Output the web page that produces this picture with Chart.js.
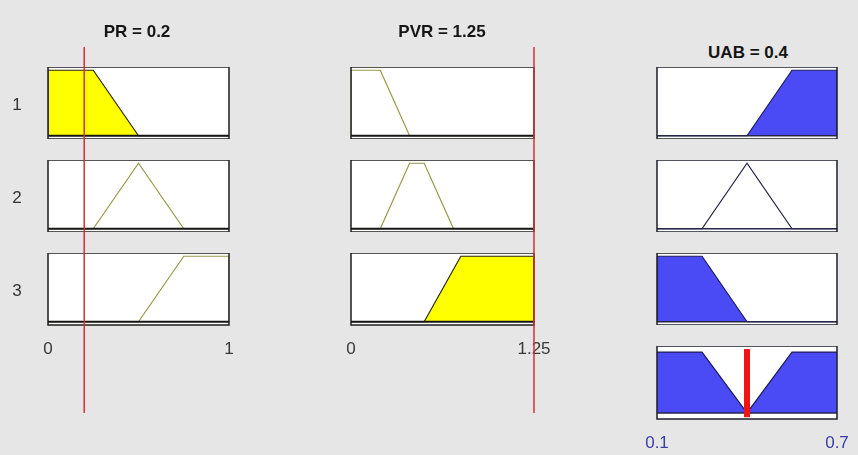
<!DOCTYPE html>
<html>
<head>
<meta charset="utf-8">
<script src="https://cdn.jsdelivr.net/npm/chart.js@4.4.1/dist/chart.umd.min.js"></script>
<style>
  html, body { margin: 0; padding: 0; background: #e6e6e6; }
  #stage { position: relative; width: 858px; height: 455px; overflow: hidden;
           font-family: "Liberation Sans", Arial, sans-serif; }
  #stage canvas { position: absolute; }
  .lbl { position: absolute; white-space: nowrap; line-height: 1; transform: translateX(-50%); }
  .title { font-weight: bold; font-size: 17px; color: #151515; }
  .rowlbl { font-size: 17px; color: #333; }
</style>
</head>
<body>
<div id="stage"></div>
<script>
// ---- fuzzy system: variables, ranges, membership functions ----
const inputNames = ['PR', 'PVR'];
const inputValues = [0.2, 1.25];
const outputName = 'UAB';
const outputValue = 0.4;

const prRange = [0, 1];
const pvrRange = [0, 1.25];
const uabRange = [0.1, 0.7];

// trimf = [a b c], trapmf = [a b c d]
const prMFs  = [[0, 0, 0.25, 0.5], [0.25, 0.5, 0.75], [0.5, 0.75, 1, 1]];
const pvrMFs = [[0, 0, 0.2, 0.4], [0.2, 0.4, 0.5, 0.7], [0.5, 0.75, 1.25, 1.25]];
const uabMFs = [[0.4, 0.55, 0.7, 0.7], [0.25, 0.4, 0.55], [0.1, 0.1, 0.25, 0.4]];

// shading level of each rule's MF
const prFill = [1, 0, 0];
const pvrFill = [0, 0, 1];
const ruleStrength = [1, 0, 1];

// aggregated output set
const aggX = [0.1, 0.25, 0.4, 0.55, 0.7];
const aggY = [1, 1, 0, 1, 1];

const ruleLabels = ['1', '2', '3'];
const prTicks = ['0', '1'];
const pvrTicks = ['0', '1.25'];
const uabTicks = ['0.1', '0.7'];

// ---- layout ----
const FONT = '"Liberation Sans", Arial, sans-serif';
const colX = [48, 351, 657];
const colW = [181, 183, 180];
const rowY = [67, 160, 253, 346];
const rowH = 72;
const aggH = 73;
const PADX = 40;
const TICK_H = 40;

const stage = document.getElementById('stage');

function addCanvas(left, top, w, h) {
  const c = document.createElement('canvas');
  c.width = w; c.height = h;
  c.style.left = left + 'px'; c.style.top = top + 'px';
  c.style.width = w + 'px'; c.style.height = h + 'px';
  stage.appendChild(c);
  return c;
}

function addText(cls, text, x, y, color) {
  const d = document.createElement('div');
  d.className = 'lbl ' + cls;
  d.textContent = text;
  d.style.left = x + 'px';
  d.style.top = y + 'px';
  if (color) d.style.color = color;
  stage.appendChild(d);
}

// white plot box, zero line and frame
const boxPlugin = {
  id: 'mfBox',
  beforeDatasetsDraw(chart) {
    const { ctx, chartArea: a } = chart;
    ctx.save();
    ctx.fillStyle = '#ffffff';
    ctx.fillRect(a.left, a.top, a.right - a.left, a.bottom - a.top);
    ctx.restore();
  },
  afterDatasetsDraw(chart, args, opts) {
    const { ctx, chartArea: a, scales } = chart;
    const y0 = scales.y.getPixelForValue(0);
    ctx.save();
    ctx.strokeStyle = opts.baseColor;
    ctx.lineWidth = opts.baseWidth;
    ctx.beginPath();
    ctx.moveTo(a.left, y0);
    ctx.lineTo(a.right, y0);
    ctx.stroke();
    ctx.strokeStyle = opts.frameColor;
    ctx.lineWidth = 1.5;
    ctx.strokeRect(a.left, a.top, a.right - a.left, a.bottom - a.top);
    ctx.restore();
  }
};

function mfPoints(p, range) {
  const pts = [{ x: range[0], y: 0 }];
  if (p.length === 3) {
    pts.push({ x: p[0], y: 0 }, { x: p[1], y: 1 }, { x: p[2], y: 0 });
  } else {
    pts.push({ x: p[0], y: 0 }, { x: p[1], y: 1 }, { x: p[2], y: 1 }, { x: p[3], y: 0 });
  }
  pts.push({ x: range[1], y: 0 });
  return pts;
}

function mfDatasets(params, range, level, style) {
  const pts = mfPoints(params, range);
  if (level > 0) {
    return [{
      data: pts.map(p => ({ x: p.x, y: Math.min(p.y, level) })),
      fill: 'origin', backgroundColor: style.fill,
      borderColor: style.edge, borderWidth: 1.2, pointRadius: 0, tension: 0
    }];
  }
  return [{
    data: pts, fill: false, borderColor: style.line,
    borderWidth: 1.2, pointRadius: 0, tension: 0
  }];
}

function panel({ left, top, w, h, range, yMin, yMax, datasets, frame, ticks }) {
  const tickH = ticks ? TICK_H : 0;
  const c = addCanvas(left - PADX, top, w + 2 * PADX, h + tickH);
  return new Chart(c, {
    type: 'line',
    data: { datasets },
    options: {
      responsive: false, animation: false, events: [],
      layout: { padding: { left: PADX, right: PADX, top: 0, bottom: 0 } },
      plugins: { legend: { display: false }, tooltip: { enabled: false }, mfBox: frame },
      scales: {
        x: {
          type: 'linear', min: range[0], max: range[1], display: !!ticks,
          grid: { display: false, drawTicks: false }, border: { display: false },
          afterBuildTicks: s => { s.ticks = [{ value: range[0] }, { value: range[1] }]; },
          afterFit: s => { if (ticks) s.height = tickH; },
          ticks: {
            autoSkip: false, maxRotation: 0, padding: 14,
            color: ticks ? ticks.color : '#333',
            font: { family: FONT, size: 17 },
            callback: (v, i) => (ticks ? ticks.labels[i] : '')
          }
        },
        y: { type: 'linear', min: yMin, max: yMax, display: false }
      }
    },
    plugins: [boxPlugin]
  });
}

// vertical marker for a crisp value
function marker({ left, top, w, h, range, yMin, yMax, x, yFrom, yTo, color, width }) {
  const c = addCanvas(left - PADX, top, w + 2 * PADX, h);
  return new Chart(c, {
    type: 'line',
    data: { datasets: [{
      data: [{ x, y: yFrom }, { x, y: yTo }],
      borderColor: color, borderWidth: width, borderCapStyle: 'butt',
      pointRadius: 0, fill: false, clip: false
    }] },
    options: {
      responsive: false, animation: false, events: [],
      layout: { padding: { left: PADX, right: PADX, top: 0, bottom: 0 } },
      plugins: { legend: { display: false }, tooltip: { enabled: false } },
      scales: {
        x: { type: 'linear', min: range[0], max: range[1], display: false },
        y: { type: 'linear', min: yMin, max: yMax, display: false }
      }
    }
  });
}

const inputStyle = { fill: '#ffff00', edge: '#262600', line: '#97974a' };
const outputStyle = { fill: '#4b4bf6', edge: '#1c1c5a', line: '#1c1c40' };
const inputFrame = { baseColor: '#161616', baseWidth: 2, frameColor: '#1e1e1e' };
const outputFrame = { baseColor: '#26264a', baseWidth: 1.5, frameColor: '#1e1e28' };

const inputs = [
  { range: prRange, mfs: prMFs, fill: prFill, ticks: prTicks },
  { range: pvrRange, mfs: pvrMFs, fill: pvrFill, ticks: pvrTicks }
];

// input columns
inputs.forEach((inp, col) => {
  inp.mfs.forEach((mf, r) => {
    panel({
      left: colX[col], top: rowY[r], w: colW[col], h: rowH,
      range: inp.range, yMin: -0.05, yMax: 1.05,
      datasets: mfDatasets(mf, inp.range, inp.fill[r], inputStyle),
      frame: inputFrame,
      ticks: r === inp.mfs.length - 1 ? { labels: inp.ticks, color: '#383838' } : null
    });
  });
});

// output column
uabMFs.forEach((mf, r) => {
  panel({
    left: colX[2], top: rowY[r], w: colW[2], h: rowH,
    range: uabRange, yMin: -0.05, yMax: 1.05,
    datasets: mfDatasets(mf, uabRange, ruleStrength[r], outputStyle),
    frame: outputFrame, ticks: null
  });
});

// aggregated output
panel({
  left: colX[2], top: rowY[3], w: colW[2], h: aggH,
  range: uabRange, yMin: -0.1, yMax: 1.1,
  datasets: [{
    data: aggX.map((x, i) => ({ x, y: aggY[i] })),
    fill: 'origin', backgroundColor: outputStyle.fill,
    borderColor: outputStyle.edge, borderWidth: 1.2, pointRadius: 0, tension: 0
  }],
  frame: outputFrame,
  ticks: { labels: uabTicks, color: '#3c3ca8' }
});

// crisp input lines
inputs.forEach((inp, col) => {
  marker({
    left: colX[col], top: 47, w: colW[col], h: 366,
    range: inp.range, yMin: 0, yMax: 1,
    x: inputValues[col], yFrom: 0, yTo: 1,
    color: 'rgb(214,48,48)', width: 1.5
  });
});

// defuzzified output
marker({
  left: colX[2], top: rowY[3], w: colW[2], h: aggH,
  range: uabRange, yMin: -0.1, yMax: 1.1,
  x: outputValue, yFrom: -0.07, yTo: 1.05,
  color: '#f01414', width: 6
});

// titles and rule numbers
addText('title', inputNames[0] + ' = ' + inputValues[0], 137, 23);
addText('title', inputNames[1] + ' = ' + inputValues[1], 442, 23);
addText('title', outputName + ' = ' + outputValue, 748, 44);
ruleLabels.forEach((t, r) => addText('rowlbl', t, 17, rowY[r] + 29));
</script>
</body>
</html>
